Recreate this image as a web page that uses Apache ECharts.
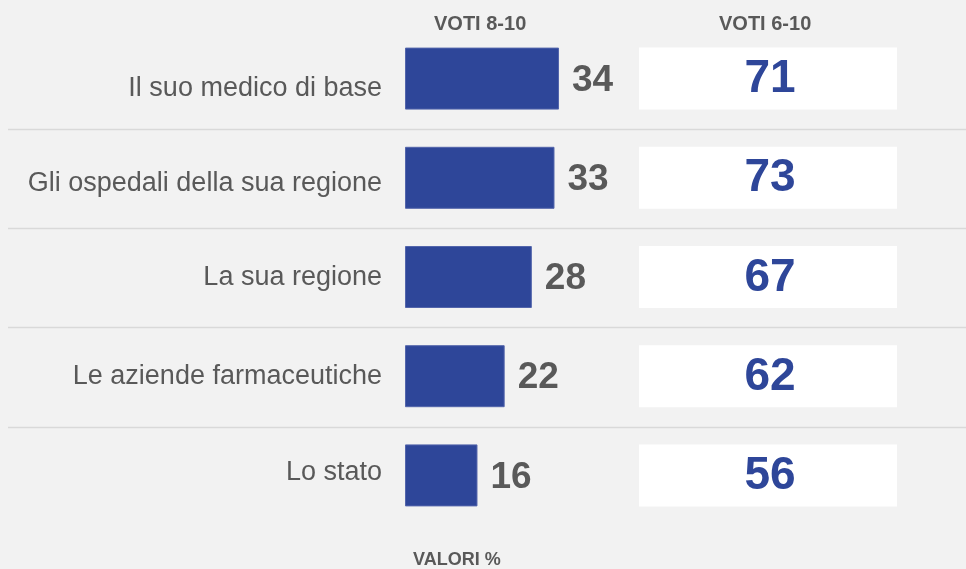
<!DOCTYPE html>
<html>
<head>
<meta charset="utf-8">
<script src="https://cdn.jsdelivr.net/npm/echarts@6/dist/echarts.min.js"></script>
<style>
  html, body { margin: 0; padding: 0; background: #f2f2f2; }
  #chart { width: 966px; height: 569px; }
</style>
</head>
<body>
<div id="chart"></div>
<script>
// categories and values
var categories = [
  'Il suo medico di base',
  'Gli ospedali della sua regione',
  'La sua regione',
  'Le aziende farmaceutiche',
  'Lo stato'
];
var voti810 = [34, 33, 28, 22, 16];
var voti610 = [71, 73, 67, 62, 56];

var FONT = '"Liberation Sans", Arial, Helvetica, sans-serif';
var GREY = '#595959';
var BLUE = '#2e4699';

var chart = echarts.init(document.getElementById('chart'));

var gridTop = 29, gridHeight = 496;

chart.setOption({
  backgroundColor: '#f2f2f2',
  animation: false,
  graphic: [
    { type: 'text', left: 434, top: 14, style: { text: 'VOTI 8-10', font: 'bold 20px ' + FONT, fill: GREY } },
    { type: 'text', left: 719, top: 14, style: { text: 'VOTI 6-10', font: 'bold 20px ' + FONT, fill: GREY } },
    { type: 'text', left: 413, top: 551, style: { text: 'VALORI %', font: 'bold 18px ' + FONT, fill: GREY } }
  ],
  grid: [
    { left: 8, right: 0, top: gridTop + 1, height: gridHeight },  // separator lines
    { left: 405, width: 453, top: gridTop, height: gridHeight },  // bars
    { left: 639, width: 258, top: gridTop, height: gridHeight }   // white boxes
  ],
  xAxis: [
    { gridIndex: 0, type: 'value', show: false, min: 0, max: 100 },
    { gridIndex: 1, type: 'value', show: false, min: 0, max: 100 },
    { gridIndex: 2, type: 'value', show: false, min: 0, max: 100 }
  ],
  yAxis: [
    {
      gridIndex: 0, type: 'category', inverse: true, data: categories,
      axisLine: { show: false }, axisTick: { show: false }, axisLabel: { show: false },
      splitLine: { show: true, showMinLine: false, showMaxLine: false, lineStyle: { color: '#d9d9d9', width: 1.3 } }
    },
    {
      gridIndex: 1, type: 'category', inverse: true, data: categories,
      axisLine: { show: false }, axisTick: { show: false }, splitLine: { show: false },
      axisLabel: {
        margin: 23,
        formatter: function (v, i) { return '{o' + i + '|' + v + '}'; },
        rich: {
          o0: { fontSize: 27, fontFamily: FONT, color: GREY, padding: [19, 0, 0, 0] },
          o1: { fontSize: 27, fontFamily: FONT, color: GREY, padding: [11, 0, 0, 0] },
          o2: { fontSize: 27, fontFamily: FONT, color: GREY, padding: [2, 0, 0, 0] },
          o3: { fontSize: 27, fontFamily: FONT, color: GREY },
          o4: { fontSize: 27, fontFamily: FONT, color: GREY, padding: [0, 0, 6, 0] }
        }
      }
    },
    {
      gridIndex: 2, type: 'category', inverse: true, data: categories, show: false
    }
  ],
  series: [
    {
      name: 'Voti 8-10',
      type: 'bar',
      xAxisIndex: 1, yAxisIndex: 1,
      barWidth: 62,
      data: voti810,
      itemStyle: { color: BLUE, borderColor: '#5365ab', borderWidth: 1 },
      label: {
        show: true, position: 'right', distance: 13, offset: [0, 2],
        fontFamily: FONT, fontWeight: 'bold', fontSize: 37, color: GREY
      }
    },
    {
      name: 'Voti 6-10',
      type: 'bar',
      xAxisIndex: 2, yAxisIndex: 2,
      barWidth: 62,
      data: voti610,
      itemStyle: { color: 'rgba(0,0,0,0)' },
      showBackground: true,
      backgroundStyle: { color: '#ffffff' },
      label: {
        show: true, position: [131, '50%'], align: 'center', verticalAlign: 'middle',
        offset: [0, 1],
        fontFamily: FONT, fontWeight: 'bold', fontSize: 46, color: BLUE
      }
    }
  ]
});
</script>
</body>
</html>
